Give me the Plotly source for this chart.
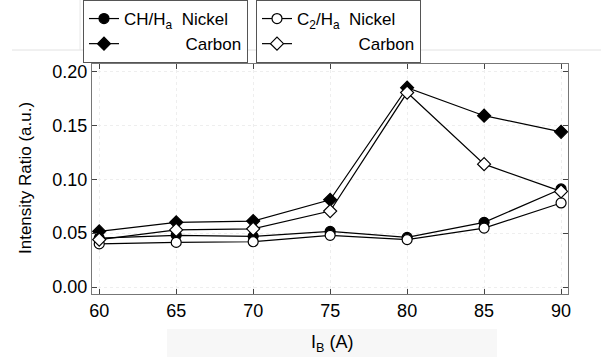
import plotly.graph_objects as go

current_A = [60, 65, 70, 75, 80, 85, 90]
ch_nickel = [0.0454, 0.048, 0.047, 0.0516, 0.046, 0.060, 0.091]
ch_carbon = [0.0516, 0.060, 0.0612, 0.081, 0.185, 0.159, 0.144]
c2_nickel = [0.040, 0.0414, 0.042, 0.048, 0.044, 0.0547, 0.078]
c2_carbon = [0.044, 0.053, 0.054, 0.0705, 0.1805, 0.114, 0.0887]

x_ticks = [60, 65, 70, 75, 80, 85, 90]
y_ticks = [0.00, 0.05, 0.10, 0.15, 0.20]

FONT = "Liberation Sans, Arial, sans-serif"
NB = "\u00a0"

fig = go.Figure()

def add(y, name, symbol, filled, legend, size):
    fig.add_trace(go.Scatter(
        x=current_A, y=y, name=name, mode="lines+markers",
        line=dict(color="black", width=1.2),
        marker=dict(symbol=symbol, size=size,
                    color="black" if filled else "white",
                    line=dict(color="black", width=1.2)),
        legend=legend,
    ))

add(ch_nickel, "CH/H<sub>a</sub>" + NB * 2 + "Nickel", "circle", True, "legend", 10)
add(ch_carbon, NB * 13 + "Carbon", "diamond", True, "legend", 10)
add(c2_nickel, "C<sub>2</sub>/H<sub>a</sub>" + NB * 2 + "Nickel", "circle", False, "legend2", 10)
add(c2_carbon, NB * 13 + "Carbon", "diamond", False, "legend2", 10)

L, R, T, B = 92, 33, 64, 63
W, H = 601, 357
pw, ph = W - L - R, H - T - B

def px(xp):
    return (xp - L) / pw

def py(yp):
    return (H - B - yp) / ph

legend_common = dict(
    bgcolor="white", bordercolor="#555", borderwidth=1,
    font=dict(family=FONT, size=17, color="black"),
    xanchor="left", yanchor="top", tracegroupgap=0,
    itemwidth=30, xref="container", yref="container",
)

fig.update_layout(
    width=W, height=H,
    margin=dict(l=L, r=R, t=T, b=B, autoexpand=False),
    paper_bgcolor="white", plot_bgcolor="white",
    font=dict(family=FONT, size=18, color="black"),
    legend=dict(x=83 / W, y=1.0, **legend_common),
    legend2=dict(x=256 / W, y=1.0, **legend_common),
    xaxis=dict(
        range=[59.53, 90.45], tickvals=x_ticks, ticktext=[str(v) for v in x_ticks],
        ticks="inside", ticklen=5, tickcolor="#444", mirror="ticks",
        showline=True, linecolor="#777", linewidth=1.3,
        showgrid=True, gridcolor="#eeeeee", griddash="dot", gridwidth=1,
        zeroline=False,
        tickfont=dict(size=18),
    ),
    yaxis=dict(
        range=[-0.0065, 0.207], tickvals=y_ticks, ticktext=["%.2f" % v for v in y_ticks],
        ticks="inside", ticklen=5, tickcolor="#444", mirror="ticks",
        showline=True, linecolor="#777", linewidth=1.3,
        showgrid=True, gridcolor="#eeeeee", griddash="dot", gridwidth=1,
        zeroline=False,
        tickfont=dict(size=18),
    ),
    annotations=[
        dict(text="Intensity Ratio (a.u.)", xref="paper", yref="paper",
             x=px(25), y=py(178), textangle=-90, showarrow=False,
             xanchor="center", yanchor="middle", font=dict(size=17)),
        dict(text="I<sub>B</sub> (A)", xref="paper", yref="paper",
             x=px(332), y=py(343), showarrow=False,
             xanchor="center", yanchor="middle", font=dict(size=18)),
    ],
    shapes=[
        dict(type="rect", xref="paper", yref="paper", x0=px(167), x1=px(497),
             y0=py(357), y1=py(329), fillcolor="#f7f7f7", line=dict(width=0), layer="below"),
        dict(type="line", xref="paper", yref="paper", x0=px(12), x1=px(601),
             y0=py(50), y1=py(50), line=dict(color="#e2e2e2", width=1), layer="below"),
        dict(type="line", xref="paper", yref="paper", x0=px(80), x1=px(80),
             y0=py(0), y1=py(50), line=dict(color="#e8e8e8", width=1), layer="below"),
    ],
)

fig.write_html("out.html")
